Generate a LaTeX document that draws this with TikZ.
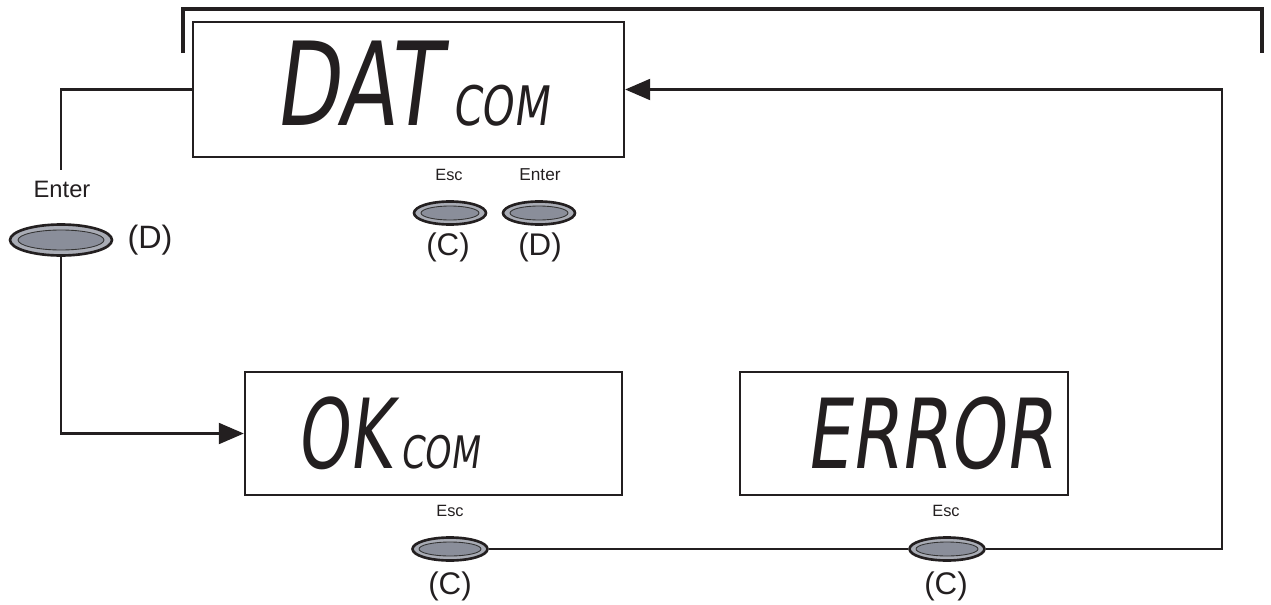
\documentclass[tikz,border=0pt]{standalone}
\usepackage{fontspec}
\setmainfont{Liberation Sans}
\newfontfamily\lcdfont{DejaVu Sans}[FakeSlant=0.18]
\usetikzlibrary{shapes.geometric,arrows.meta}
\definecolor{ink}{HTML}{231F20}
\definecolor{btnouter}{HTML}{A9ACB5}
\definecolor{btninner}{HTML}{8A8E9A}
\tikzset{
  lcdbox/.style={draw=ink, line width=1.4pt, rectangle, inner sep=0pt},
  conn/.style={draw=ink, line width=1.2pt},
  arr/.style={conn, -{Triangle[length=0.5cm,width=0.42cm]}},
  btn/.style n args={4}{ellipse, minimum width=#1, minimum height=#2, inner sep=0pt,
    draw=ink, line width=1.5pt, fill=btnouter,
    path picture={\draw[black!80, line width=0.5pt, fill=btninner]
      (path picture bounding box.center) ellipse [x radius=#3, y radius=#4];}},
  lbl/.style={inner sep=0pt, text=ink},
  lcd/.style={inner sep=0pt, anchor=base west, text=ink},
}
\begin{document}
\begin{tikzpicture}[x=0.02cm, y=-0.02cm]
\useasboundingbox (0,0) rectangle (1271,605);
% top bracket
\draw[ink, line width=2.8pt] (183,53) -- (183,9) -- (1262,9) -- (1262,53);
% boxes
\node[lcdbox, minimum width=8.62cm, minimum height=2.70cm] (dat) at (408.5,89.5) {};
\node[lcdbox, minimum width=7.54cm, minimum height=2.46cm] (ok) at (433.5,433.5) {};
\node[lcdbox, minimum width=6.56cm, minimum height=2.46cm] (err) at (904,433.5) {};
% LCD texts
\node[lcd] (tdat) at (274,125) {\lcdfont\fontsize{66pt}{66pt}\selectfont\scalebox{0.72}[1]{DAT}};
\node[lcd] (tdatcom) at (452,125) {\lcdfont\fontsize{31pt}{31pt}\selectfont\scalebox{0.75}[1]{COM}};
\node[lcd] (tok) at (296,468) {\lcdfont\fontsize{55pt}{55pt}\selectfont\scalebox{0.68}[1]{OK}};
\node[lcd] (tokcom) at (400,468) {\lcdfont\fontsize{25.5pt}{25.5pt}\selectfont\scalebox{0.75}[1]{COM}};
\node[lcd] (terr) at (805,468) {\lcdfont\fontsize{55pt}{55pt}\selectfont\scalebox{0.735}[1]{ERROR}};
% left Enter button
\node[lbl, font=\fontsize{13.5pt}{16pt}\selectfont] (lenter) at (62,189) {Enter};
\node[btn={2.04cm}{0.62cm}{0.86cm}{0.2cm}] (bD) at (61,240) {};
\node[lbl, font=\fontsize{18.4pt}{22pt}\selectfont] (lD) at (150,240) {(D)};
% buttons under DAT
\node[lbl, font=\fontsize{9.3pt}{11pt}\selectfont] (esc1) at (449,175) {Esc};
\node[lbl, font=\fontsize{9.8pt}{11pt}\selectfont] (ent1) at (540,175) {Enter};
\node[btn={1.44cm}{0.46cm}{0.58cm}{0.14cm}] (bC1) at (450,213) {};
\node[btn={1.44cm}{0.46cm}{0.58cm}{0.14cm}] (bD1) at (539,213) {};
\node[lbl, font=\fontsize{17.8pt}{20pt}\selectfont] (c1) at (448,247) {(C)};
\node[lbl, font=\fontsize{17.8pt}{20pt}\selectfont] (d1) at (540,247) {(D)};
% bottom buttons
\node[lbl, font=\fontsize{9.3pt}{11pt}\selectfont] (esc2) at (450,511) {Esc};
\node[lbl, font=\fontsize{9.3pt}{11pt}\selectfont] (esc3) at (946,511) {Esc};
\node[btn={1.5cm}{0.46cm}{0.62cm}{0.14cm}] (bC2) at (450,549) {};
\node[btn={1.5cm}{0.46cm}{0.62cm}{0.14cm}] (bC3) at (947,549) {};
\node[lbl, font=\fontsize{17.8pt}{20pt}\selectfont] (c2) at (450,586) {(C)};
\node[lbl, font=\fontsize{17.8pt}{20pt}\selectfont] (c3) at (946,586) {(C)};
% connectors
\coordinate (rc) at (1222,549);
\draw[conn] (dat.west) -| ([yshift=0.2cm]lenter.north -| bD.north);
\draw[arr] (bD.south) |- (ok.west);
\draw[conn] (bC2.east) -- (bC3.west);
\draw[arr] (bC3.east) -- (rc) |- (dat.east);
\end{tikzpicture}
\end{document}
